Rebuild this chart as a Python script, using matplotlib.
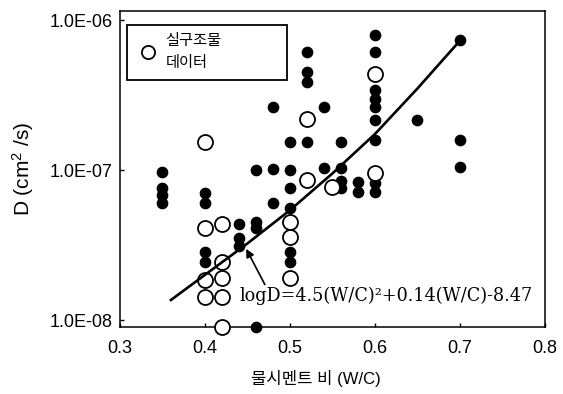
import matplotlib.pyplot as plt
from matplotlib.patches import Rectangle
from matplotlib.ticker import FixedLocator, NullLocator

plt.rcParams['font.family'] = ['Liberation Sans', 'Noto Sans CJK KR']
plt.rcParams['mathtext.default'] = 'regular'

# 데이터
wc_filled = [0.35, 0.35, 0.35, 0.35,
             0.40, 0.40, 0.40, 0.40,
             0.44, 0.44, 0.44,
             0.46, 0.46, 0.46, 0.46,
             0.48, 0.48, 0.48,
             0.50, 0.50, 0.50, 0.50, 0.50, 0.50,
             0.52, 0.52, 0.52, 0.52,
             0.54, 0.54,
             0.56, 0.56, 0.56, 0.56,
             0.58, 0.58,
             0.60, 0.60, 0.60, 0.60, 0.60, 0.60, 0.60, 0.60, 0.60,
             0.65,
             0.70, 0.70, 0.70]
d_filled = [9.7e-8, 7.6e-8, 6.8e-8, 6.0e-8,
            7.0e-8, 6.0e-8, 2.85e-8, 2.45e-8,
            4.4e-8, 3.5e-8, 3.1e-8,
            1.0e-7, 4.5e-8, 4.1e-8, 9.0e-9,
            2.65e-7, 1.02e-7, 6.0e-8,
            1.55e-7, 1.0e-7, 7.6e-8, 5.6e-8, 2.85e-8, 2.45e-8,
            6.1e-7, 4.5e-7, 3.85e-7, 1.55e-7,
            2.65e-7, 1.03e-7,
            1.55e-7, 1.03e-7, 8.5e-8, 7.6e-8,
            8.3e-8, 7.1e-8,
            7.9e-7, 6.1e-7, 3.4e-7, 3.0e-7, 2.65e-7, 2.15e-7, 1.58e-7, 8.2e-8, 7.1e-8,
            2.15e-7,
            7.4e-7, 1.58e-7, 1.05e-7]

# 실구조물 데이터 (속이 빈 원)
wc_open = [0.40, 0.40, 0.40, 0.40,
           0.42, 0.42, 0.42, 0.42, 0.42,
           0.50, 0.50, 0.50,
           0.52, 0.52,
           0.55,
           0.60, 0.60]
d_open = [1.55e-7, 4.1e-8, 1.85e-8, 1.42e-8,
          4.4e-8, 2.45e-8, 1.9e-8, 1.42e-8, 9.0e-9,
          4.5e-8, 3.6e-8, 1.9e-8,
          2.2e-7, 8.6e-8,
          7.7e-8,
          4.4e-7, 9.5e-8]

# 회귀선 (그림에서 읽은 점)
wc_fit = [0.36, 0.40, 0.45, 0.50, 0.55, 0.60, 0.65, 0.70]
d_fit = [1.36e-8, 2.0e-8, 3.24e-8, 5.4e-8, 9.5e-8, 1.74e-7, 3.5e-7, 7.3e-7]

x_ticks = [0.3, 0.4, 0.5, 0.6, 0.7, 0.8]
y_ticks = [1e-8, 1e-7, 1e-6]
y_labels = ['1.0E-08', '1.0E-07', '1.0E-06']
legend_label = '실구조물\n데이터'
eq_text = 'logD=4.5(W/C)²+0.14(W/C)-8.47'

fig = plt.figure(figsize=(5.63, 3.94), dpi=100)
ax = fig.add_axes([0.213, 0.170, 0.755, 0.802])

ax.plot(wc_filled, d_filled, 'o', color='black', ms=7.4, clip_on=False, zorder=3)
ax.plot(wc_open, d_open, 'o', mfc='white', mec='black', mew=1.3, ms=10.8,
        clip_on=False, zorder=4)
ax.plot(wc_fit, d_fit, color='black', lw=1.9, zorder=5)

ax.set_yscale('log')
ax.set_xlim(0.3, 0.8)
ax.set_ylim(8.98e-9, 1.15e-6)
ax.xaxis.set_major_locator(FixedLocator(x_ticks))
ax.set_xticklabels(['%.1f' % v for v in x_ticks])
ax.yaxis.set_major_locator(FixedLocator(y_ticks))
ax.yaxis.set_minor_locator(NullLocator())
ax.set_yticklabels(y_labels)
ax.tick_params(direction='in', length=3, width=1, labelsize=13, pad=5)
ax.tick_params(axis='x', pad=9)
for s in ax.spines.values():
    s.set_linewidth(1.1)

ax.set_ylabel('D (cm$^2$ /s)', fontsize=15, labelpad=10)
fig.text(0.561, 0.04, '물시멘트 비 (W/C)', fontsize=12, ha='center', va='center')

# 화살표와 식
ax.annotate('', xy=(0.447, 3.1e-8), xytext=(0.472, 1.66e-8),
            arrowprops=dict(arrowstyle='-|>', color='black', lw=1.2, mutation_scale=12),
            zorder=6)
ax.text(0.441, 1.34e-8, eq_text, family='DejaVu Serif', fontsize=12.7,
        ha='left', va='baseline', zorder=6)

# 범례
ax.add_patch(Rectangle((0.016, 0.782), 0.377, 0.174, transform=ax.transAxes,
                       fill=False, edgecolor='black', lw=1.3, zorder=6))
ax.plot([0.066], [0.87], 'o', mfc='white', mec='black', mew=1.3, ms=9.5,
        transform=ax.transAxes, zorder=7)
ax.text(0.107, 0.87, legend_label, transform=ax.transAxes, fontsize=11,
        ha='left', va='center', linespacing=1.75, zorder=7)

plt.savefig('out.png', dpi=100)
